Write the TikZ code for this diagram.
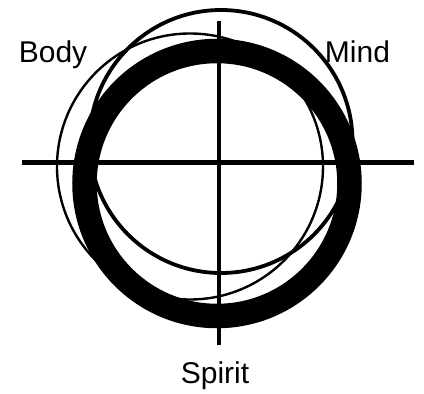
\documentclass[tikz,border=0pt]{standalone}
\usepackage{fontspec}
\setmainfont{Liberation Sans}
\usetikzlibrary{positioning}
\tikzset{
  every picture/.style={x=1pt, y=-1pt, line width=2.5pt},
  axis/.style={draw=black, line width=4.8pt},
  ring/.style={draw=black, line width=#1},
  ring/.default=2.4pt,
  lbl/.style={font=\fontsize{30}{36}\selectfont, inner sep=0pt, anchor=base},
}
\begin{document}
\begin{tikzpicture}
  \useasboundingbox (0,0) rectangle (424,394);
  % cross
  \coordinate (west) at (22,162.5);
  \coordinate (east) at (414,162.5);
  \coordinate (north) at (219,21);
  \coordinate (south) at (219,345);
  \draw[axis] (west) -- (east);
  \draw[axis] (north) -- (south);
  % the three circles
  \coordinate (body) at (190,166.5);
  \coordinate (mind) at (221,141.5);
  \coordinate (spirit) at (217,183.5);
  \draw[ring] (body) circle[radius=133];
  \draw[ring=3.8pt] (mind) circle[radius=131.5];
  \draw[ring=24.5pt] (spirit) circle[radius=132.5];
  % labels
  \node[lbl] (bodylbl) at (53,62) {Body};
  \node[lbl] (mindlbl) at (357.5,62) {Mind};
  \node[lbl] (spiritlbl) at (215,383) {Spirit};
\end{tikzpicture}
\end{document}
